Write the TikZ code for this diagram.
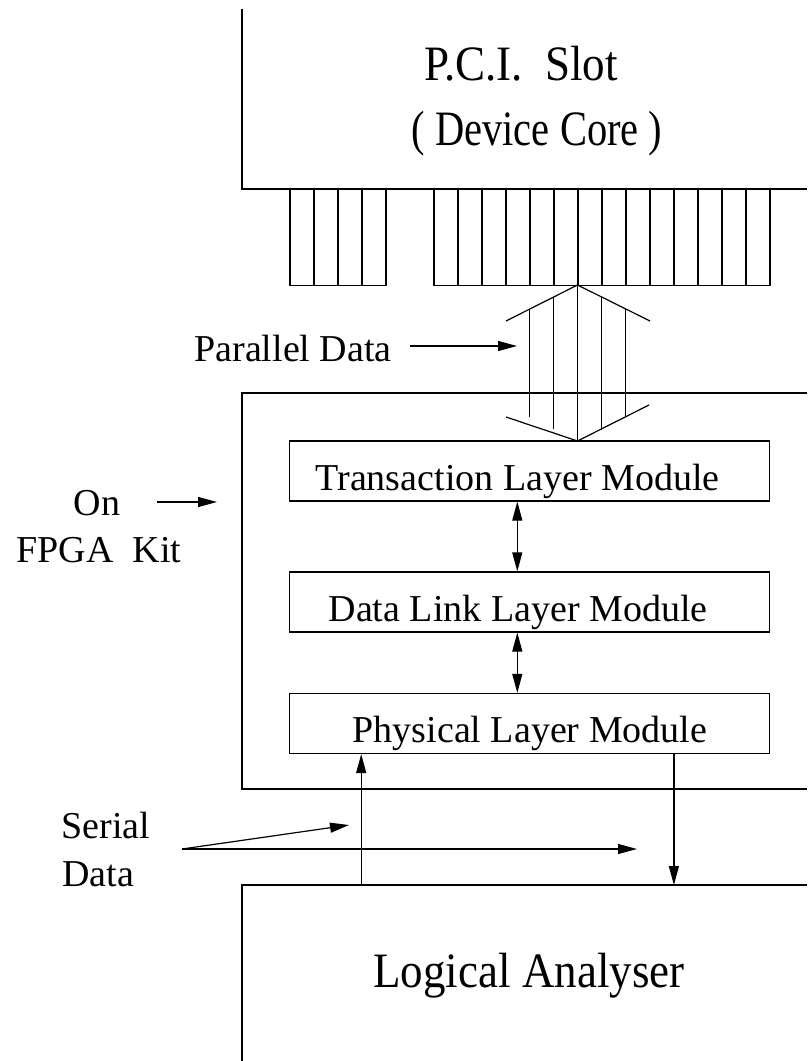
\documentclass[tikz,border=0pt]{standalone}
\usepackage{fontspec}
\setmainfont{Liberation Serif}
\usetikzlibrary{arrows.meta}
\newcommand{\tallbig}[1]{\scalebox{1}[1.1]{#1}}
\begin{document}
\begin{tikzpicture}[x=1pt,y=-1pt,line width=1.2pt,
  tip/.tip={Triangle[length=19pt,width=10pt]},
  arr/.style={-tip},
  dbl/.style={tip-tip},
  layerbox/.style={draw,minimum width=480pt,minimum height=60pt,inner sep=0pt},
  pin/.style={draw,minimum width=24pt,minimum height=96pt,inner sep=0pt},
  small/.style={font=\fontsize{38}{44}\selectfont,anchor=base,inner sep=0pt},
  big/.style={font=\fontsize{45}{52}\selectfont,anchor=base,inner sep=0pt}]
\useasboundingbox (0,0) rectangle (807,1061);

% device core (open to the top and right)
\coordinate (core) at (242,189);
\draw (242,9) -- (core) -- (807,189);
\node[big] (pci) at (521,80) {\tallbig{P.C.I.\ \ Slot}};
\node[big] (dev) at (537,145) {\scalebox{0.9}[1.1]{( Device Core )}};

% connector pins
\foreach \i in {0,...,3}
  \node[pin,anchor=north west] (pa\i) at (289.3+24*\i,189) {};
\foreach \i in {0,...,13}
  \node[pin,anchor=north west] (pb\i) at (433.3+24*\i,189) {};

% parallel bus (double-headed block arrow)
\coordinate (apexT) at (577.5,285);
\coordinate (apexB) at (577.5,441);
\draw (506,321) -- (apexT) -- (650,321);
\draw (506,417) -- (apexB) -- (649,405);
\draw (apexT) -- (apexB);
\draw (553.5,297) -- (553.5,429);
\draw (529.5,309) -- (529.5,417);
\draw (601.5,297) -- (601.5,430);
\draw (625.5,309) -- (625.5,416);

\node[small] (par) at (293,361) {Parallel Data};
\coordinate (parTip) at (517,346);
\draw[arr] (410,346) -- (parTip);

% FPGA kit
\coordinate (kit) at (242,393);
\draw (807,393) -- (kit) -- (242,789) -- (807,789);
\node[small] (on) at (97,515) {On};
\node[small] (fpga) at (99,562) {FPGA\ \ Kit};
\coordinate (kitTip) at (217,502);
\draw[arr] (157,502) -- (kitTip);

% layer modules
\node[layerbox] (tlm) at (529.3,471) {};
\node[layerbox] (dll) at (529.3,602) {};
\node[layerbox] (phy) at (529.3,723.5) {};
\node[small] (tlmt) at (517.5,490) {Transaction Layer Module};
\node[small] (dllt) at (518,621) {Data Link Layer Module};
\node[small] (phyt) at (530,742) {Physical Layer Module};

\draw[dbl] ([xshift=-12pt]tlm.south) -- ([xshift=-12pt]dll.north);
\draw[dbl] ([xshift=-12pt]dll.south) -- ([xshift=-12pt]phy.north);

% logical analyser (open to the bottom and right)
\coordinate (la) at (242,885);
\draw (807,885) -- (la) -- (242,1061);
\node[big] (lat) at (529,987) {\tallbig{Logical Analyser}};

\draw[arr] ([xshift=72.5pt]phy.south west |- la) -- ([xshift=72.5pt]phy.south west);
\draw[arr] ([xshift=-96pt]phy.south east) -- ([xshift=-96pt]phy.south east |- la);

% serial data
\node[small] (ser1) at (106,838) {Serial};
\node[small] (ser2) at (98,886) {Data};
\coordinate (serFrom) at (182,849);
\coordinate (serTip1) at (349,825);
\coordinate (serTip2) at (637,849);
\draw[arr] (serFrom) -- (serTip1);
\draw[arr] (serFrom) -- (serTip2);
\end{tikzpicture}
\end{document}
